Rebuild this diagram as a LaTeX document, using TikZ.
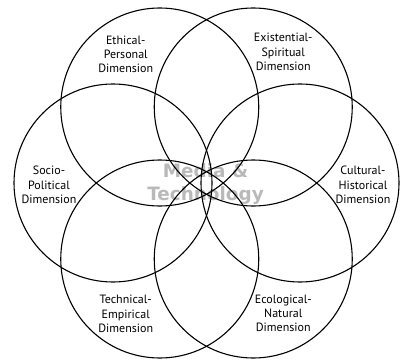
\documentclass[tikz,border=0pt]{standalone}
\usepackage{fontspec}
\setmainfont{PT Sans}
\newfontfamily\corefont{DejaVu Sans}
\usepackage{tikz}
\usetikzlibrary{calc}
\definecolor{coregray}{RGB}{185,185,185}

\begin{document}
\begin{tikzpicture}[x=1pt,y=1pt,
				ring/.style={circle,draw,line width=1.1pt,minimum size=198pt,inner sep=0pt,outer sep=0pt},
				dim/.style={align=center,font=\fontsize{12}{14.3}\selectfont,inner sep=0pt},
				core/.style={align=center,font=\corefont\bfseries\fontsize{18.4}{23}\selectfont,text=coregray,inner sep=0pt}]
				\useasboundingbox (0,0) rectangle (401,362);
				\coordinate (O) at (206.5,179);
				\node (MT)   [core] at ([shift={(-1,-1)}]O) {Media \&\\Technology};
				
				\node (ETH)  [ring] at ([shift={(-46.75,76)}]O)  {};
				\node (EXI)  [ring] at ([shift={(46.75,76)}]O)   {};
				\node (SOC)  [ring] at ([shift={(-93.5,0)}]O)    {};
				\node (CUL)  [ring] at ([shift={(93.5,0)}]O)     {};
				\node (TEC)  [ring] at ([shift={(-46.75,-76)}]O) {};
				\node (ECO)  [ring] at ([shift={(46.75,-76)}]O)  {};
				
				\node (ethical)     [dim] at ([shift={(-34,52.5)}]ETH) {Ethical-\\Personal\\Dimension};
				\node (existential) [dim] at ([shift={(30,55)}]EXI)    {Existential-\\Spiritual\\Dimension};
				\node (socio)       [dim] at ([shift={(-64,-2)}]SOC)   {Socio-\\Political\\Dimension};
				\node (cultural)    [dim] at ([shift={(63,-2)}]CUL)    {Cultural-\\Historical\\Dimension};
				\node (technical)   [dim] at ([shift={(-34,-55)}]TEC)  {Technical-\\Empirical\\Dimension};
				\node (ecological)  [dim] at ([shift={(30,-54.5)}]ECO) {Ecological-\\Natural\\Dimension};
			\end{tikzpicture}
\end{document}
